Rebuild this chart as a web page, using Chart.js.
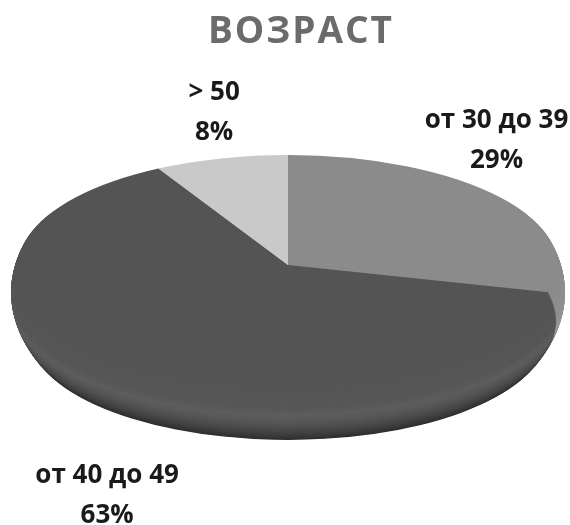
<!DOCTYPE html>
<html lang="ru">
<head>
<meta charset="utf-8">
<script src="https://cdn.jsdelivr.net/npm/chart.js@4.4.1/dist/chart.umd.min.js"></script>
<style>
  html, body { margin: 0; padding: 0; background: #fff; }
  #wrap { width: 570px; height: 525px; }
</style>
</head>
<body>
<div id="wrap"><canvas id="ageChart" width="570" height="525"></canvas></div>
<script>
const titleText = 'ВОЗРАСТ';
const categories = ['от 30 до 39', 'от 40 до 49', '> 50'];
const shares = [29, 63, 8];
const sliceColors = ['#8b8b8b', '#545454', '#c9c9c9'];

// look of the tilted pie, in pixels
const ellipseRx = 269;
const ellipseRy = 110;
const sideDepth = 69;
const sideBulge = 8;
const labelNudge = [[-4, -60], [-16, 72], [-7, -48]];

function shade(hex, f) {
  const n = parseInt(hex.slice(1), 16);
  const ch = s => Math.max(0, Math.min(255, Math.round(((n >> s) & 255) * f)));
  return `rgb(${ch(16)},${ch(8)},${ch(0)})`;
}

// brightness of the side wall, t = 0 at the rim, 1 at the bottom edge
function sideFactor(t) {
  if (t < 0.45) return 1 + 0.04 * (t / 0.45);
  if (t < 0.55) return 1.04 + 0.07 * ((t - 0.45) / 0.1);
  return 1.11 - 0.55 * Math.pow((t - 0.55) / 0.45, 1.4);
}

// rounded edge: how much wider (px) the wall is than the top face
function sideWidth(t) {
  const u = (t - 0.4) / 0.4;
  return sideBulge * (1 - u * u);
}

const tiltPlugin = {
  id: 'tilt',
  beforeDatasetsDraw(chart) {
    const arcs = chart.getDatasetMeta(0).data;
    const { x, y, outerRadius } = arcs[0];
    const sx = ellipseRx / outerRadius;
    const sy = ellipseRy / outerRadius;
    const ctx = chart.ctx;
    ctx.save();
    ctx.translate(x, y);
    ctx.scale(sx, sy);
    ctx.translate(-x, -y);
    // side wall: stack the slices from the bottom up
    for (let i = sideDepth; i >= 1; i--) {
      const t = i / sideDepth;
      const off = i / sy;
      const r = outerRadius * (ellipseRx + sideWidth(t)) / ellipseRx;
      arcs.forEach((arc, k) => {
        ctx.beginPath();
        ctx.moveTo(x, y + off);
        ctx.arc(x, y + off, r, arc.startAngle, arc.endAngle);
        ctx.closePath();
        ctx.fillStyle = shade(sliceColors[k], sideFactor(t));
        ctx.fill();
      });
    }
  },
  afterDatasetsDraw(chart) {
    const ctx = chart.ctx;
    ctx.restore();

    const arcs = chart.getDatasetMeta(0).data;
    const { x, y } = arcs[0];
    ctx.save();
    ctx.font = 'bold 26px "Open Sans"';
    ctx.fillStyle = '#1a1a1a';
    ctx.textAlign = 'center';
    ctx.textBaseline = 'alphabetic';
    arcs.forEach((arc, k) => {
      const mid = (arc.startAngle + arc.endAngle) / 2;
      const ex = x + ellipseRx * Math.cos(mid);
      let ey = y + ellipseRy * Math.sin(mid);
      if (Math.sin(mid) > 0) ey += sideDepth;
      const lx = ex + labelNudge[k][0];
      const ly = ey + labelNudge[k][1];
      ctx.fillText(categories[k], lx, ly - 10);
      ctx.fillText(shares[k] + '%', lx, ly + 30);
    });

    ctx.font = 'bold 37px "Open Sans"';
    ctx.letterSpacing = '2px';
    ctx.fillStyle = '#6b6b6b';
    ctx.fillText(titleText, chart.width / 2 + 16, 43);
    ctx.restore();
  }
};

const ctx = document.getElementById('ageChart').getContext('2d');
new Chart(ctx, {
  type: 'pie',
  data: {
    labels: categories,
    datasets: [{
      data: shares,
      backgroundColor: sliceColors,
      borderWidth: 0,
      clip: false
    }]
  },
  options: {
    responsive: false,
    animation: false,
    events: [],
    layout: { padding: { left: 6, right: 0, top: 62, bottom: 57 } },
    plugins: {
      legend: { display: false },
      title: { display: false },
      tooltip: { enabled: false }
    }
  },
  plugins: [tiltPlugin]
});
</script>
</body>
</html>
